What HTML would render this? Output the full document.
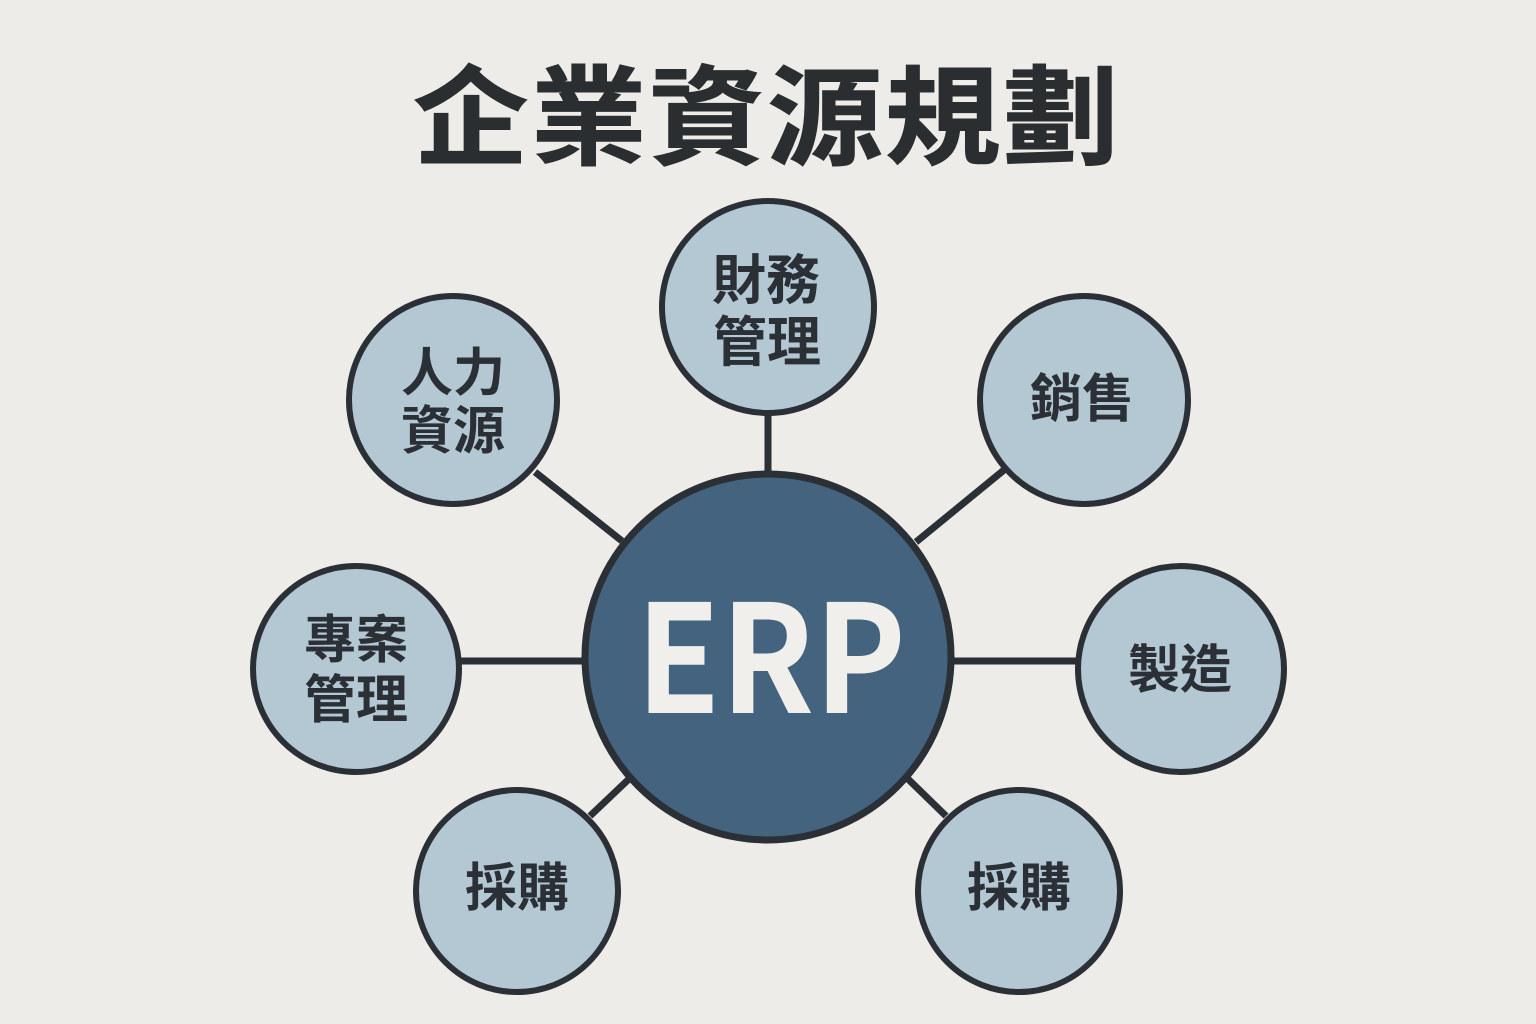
<!DOCTYPE html>
<html lang="zh-Hant">
<head>
<meta charset="utf-8">
<style>
html,body{margin:0;padding:0;background:#edece8;}
svg{display:block;}
text{font-family:"Liberation Sans","Noto Sans CJK TC",sans-serif;font-weight:700;fill:#2a3035;text-anchor:middle;}
</style>
</head>
<body>
<svg width="1536" height="1024" viewBox="0 0 1536 1024" xmlns="http://www.w3.org/2000/svg">
<rect width="1536" height="1024" fill="#edece8"/>
<text transform="translate(767,156) scale(1.07,1)" x="0" y="0" font-size="108" letter-spacing="2.3" stroke="#2a2e31" stroke-width="1" style="fill:#2a2e31">企業資源規劃</text>
<g stroke="#2a3035" stroke-width="7" fill="none">
<line x1="768" y1="412" x2="768" y2="476"/>
<line x1="535" y1="472" x2="622" y2="541"/>
<line x1="1004" y1="470" x2="916" y2="542"/>
<line x1="458" y1="661" x2="584" y2="661"/>
<line x1="952" y1="661" x2="1080" y2="661"/>
<line x1="590" y1="816" x2="630" y2="778"/>
<line x1="946" y1="816" x2="908" y2="779"/>
</g>
<g fill="#b4c8d4" stroke="#2a3035" stroke-width="6">
<circle cx="768" cy="307" r="106"/>
<circle cx="453" cy="400" r="104"/>
<circle cx="1084" cy="400" r="104"/>
<circle cx="356" cy="669" r="103"/>
<circle cx="1181" cy="669" r="103"/>
<circle cx="517" cy="891" r="101"/>
<circle cx="1019" cy="891" r="101"/>
</g>
<circle cx="768" cy="657" r="183" fill="#44637e" stroke="#2a3035" stroke-width="7"/>
<text x="636" y="713" font-size="150" textLength="270" lengthAdjust="spacingAndGlyphs" style="fill:#f0efec;text-anchor:start;font-family:'Noto Sans CJK TC',sans-serif">ERP</text>
<g font-size="52">
<text x="766" y="299" font-size="54">財務</text>
<text x="767" y="361" font-size="54">管理</text>
<text x="453" y="391">人力</text>
<text x="453" y="449">資源</text>
<text x="1082" y="417">銷售</text>
<text x="356" y="658">專案</text>
<text x="356" y="718">管理</text>
<text x="1180" y="688">製造</text>
<text x="517" y="906">採購</text>
<text x="1019" y="906">採購</text>
</g>
</svg>
</body>
</html>
